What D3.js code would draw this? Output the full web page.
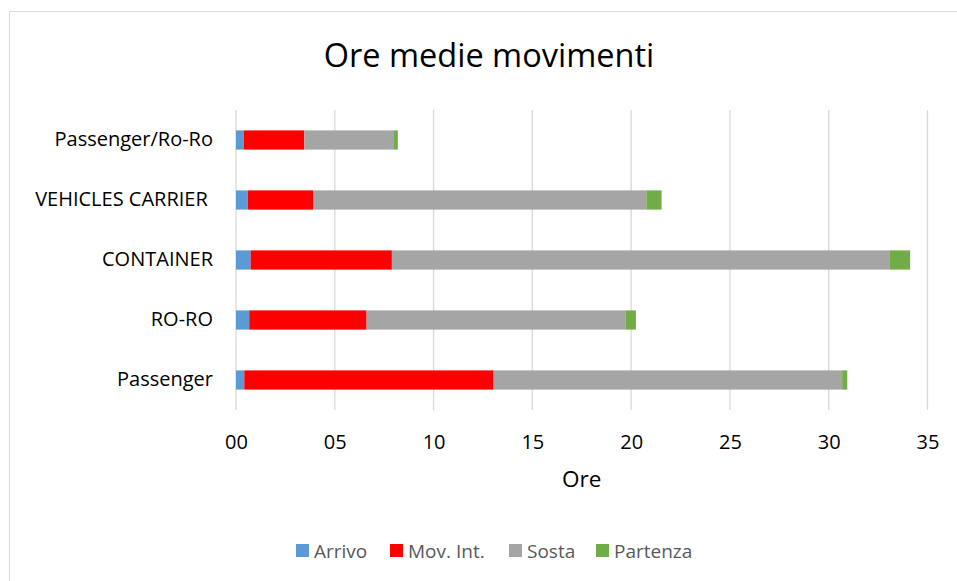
<!DOCTYPE html>
<html>
<head>
<meta charset="utf-8">
<script src="https://cdn.jsdelivr.net/npm/d3@7"></script>
<style>
  body { margin: 0; background: #fff; }
  svg { display: block; font-family: "Open Sans", sans-serif; }
  svg text { white-space: pre; }
</style>
</head>
<body>
<div id="chart"></div>
<script>
const categories = ['Passenger/Ro-Ro', 'VEHICLES CARRIER ', 'CONTAINER', 'RO-RO', 'Passenger']
const seriesNames = ['Arrivo', 'Mov. Int.', 'Sosta', 'Partenza']
const arrivo = [0.39, 0.6, 0.74, 0.67, 0.42]
const movInt = [3.07, 3.3, 7.15, 5.94, 12.62]
const sosta = [4.5, 16.87, 25.21, 13.1, 17.64]
const partenza = [0.23, 0.77, 1.02, 0.53, 0.26]
const xTicks = [0, 5, 10, 15, 20, 25, 30, 35]
const colors = ['#5b9bd5', '#ff0000', '#a5a5a5', '#70ad47']

const W = 957, H = 581
const plot = {left: 236, right: 927.5, top: 110, bottom: 410}
const font = '"Open Sans", sans-serif'

const svg = d3.select('#chart').append('svg')
  .attr('width', W)
  .attr('height', H)

// outer chart frame (only left/top edges are inside the window)
svg.append('rect')
  .attr('x', 9.5).attr('y', 11.5)
  .attr('width', W + 20).attr('height', H + 20)
  .attr('fill', 'none')
  .attr('stroke', '#d9d9d9')

svg.append('text')
  .attr('x', 489).attr('y', 67)
  .attr('text-anchor', 'middle')
  .attr('font-size', 32.5)
  .attr('fill', '#000')
  .text('Ore medie movimenti')

const x = d3.scaleLinear().domain([0, 35]).range([plot.left, plot.right])
const y = d3.scaleBand().domain(categories)
  .range([plot.top, plot.bottom])
  .paddingInner(0.68).paddingOuter(0.34)

// gridlines
svg.append('g')
  .selectAll('line')
  .data(xTicks)
  .join('line')
    .attr('x1', (d) => x(d)).attr('x2', (d) => x(d))
    .attr('y1', plot.top).attr('y2', plot.bottom)
    .attr('stroke', '#d9d9d9')
    .attr('stroke-width', 1.3)

// stacked bars
const rows = categories.map((c, i) => ({
  cat: c,
  'Arrivo': arrivo[i],
  'Mov. Int.': movInt[i],
  'Sosta': sosta[i],
  'Partenza': partenza[i],
}))
const stacked = d3.stack().keys(seriesNames)(rows)

svg.append('g')
  .selectAll('g')
  .data(stacked)
  .join('g')
    .attr('fill', (d, i) => colors[i])
  .selectAll('rect')
  .data((d) => d)
  .join('rect')
    .attr('x', (d) => x(d[0]))
    .attr('width', (d) => x(d[1]) - x(d[0]))
    .attr('y', (d) => y(d.data.cat))
    .attr('height', y.bandwidth())

// x axis labels
const xAxis = svg.append('g')
  .attr('transform', `translate(0,${plot.bottom})`)
  .call(d3.axisBottom(x).tickValues(xTicks).tickFormat(d3.format('02d')).tickSize(0).tickPadding(25))
xAxis.select('.domain').remove()
xAxis.selectAll('text')
  .attr('font-size', 20)
  .attr('font-family', font)
  .attr('fill', '#000')

// y axis labels
const yAxis = svg.append('g')
  .attr('transform', `translate(${plot.left},0)`)
  .call(d3.axisLeft(y).tickSize(0).tickPadding(23))
yAxis.select('.domain').remove()
yAxis.selectAll('text')
  .attr('font-size', 20)
  .attr('font-family', font)
  .attr('fill', '#000')

// axis title
svg.append('text')
  .attr('x', (plot.left + plot.right) / 2).attr('y', 487)
  .attr('text-anchor', 'middle')
  .attr('font-size', 22.5)
  .attr('fill', '#000')
  .text('Ore')

// legend
const legendX = [296, 390, 509, 596]
const legend = svg.append('g')
  .selectAll('g')
  .data(seriesNames)
  .join('g')
    .attr('transform', (d, i) => `translate(${legendX[i]},544)`)
legend.append('rect')
  .attr('width', 13).attr('height', 13)
  .attr('fill', (d, i) => colors[i])
legend.append('text')
  .attr('x', 18).attr('y', 13.5)
  .attr('font-size', 19)
  .attr('fill', '#595959')
  .text((d) => d)
</script>
</body>
</html>
